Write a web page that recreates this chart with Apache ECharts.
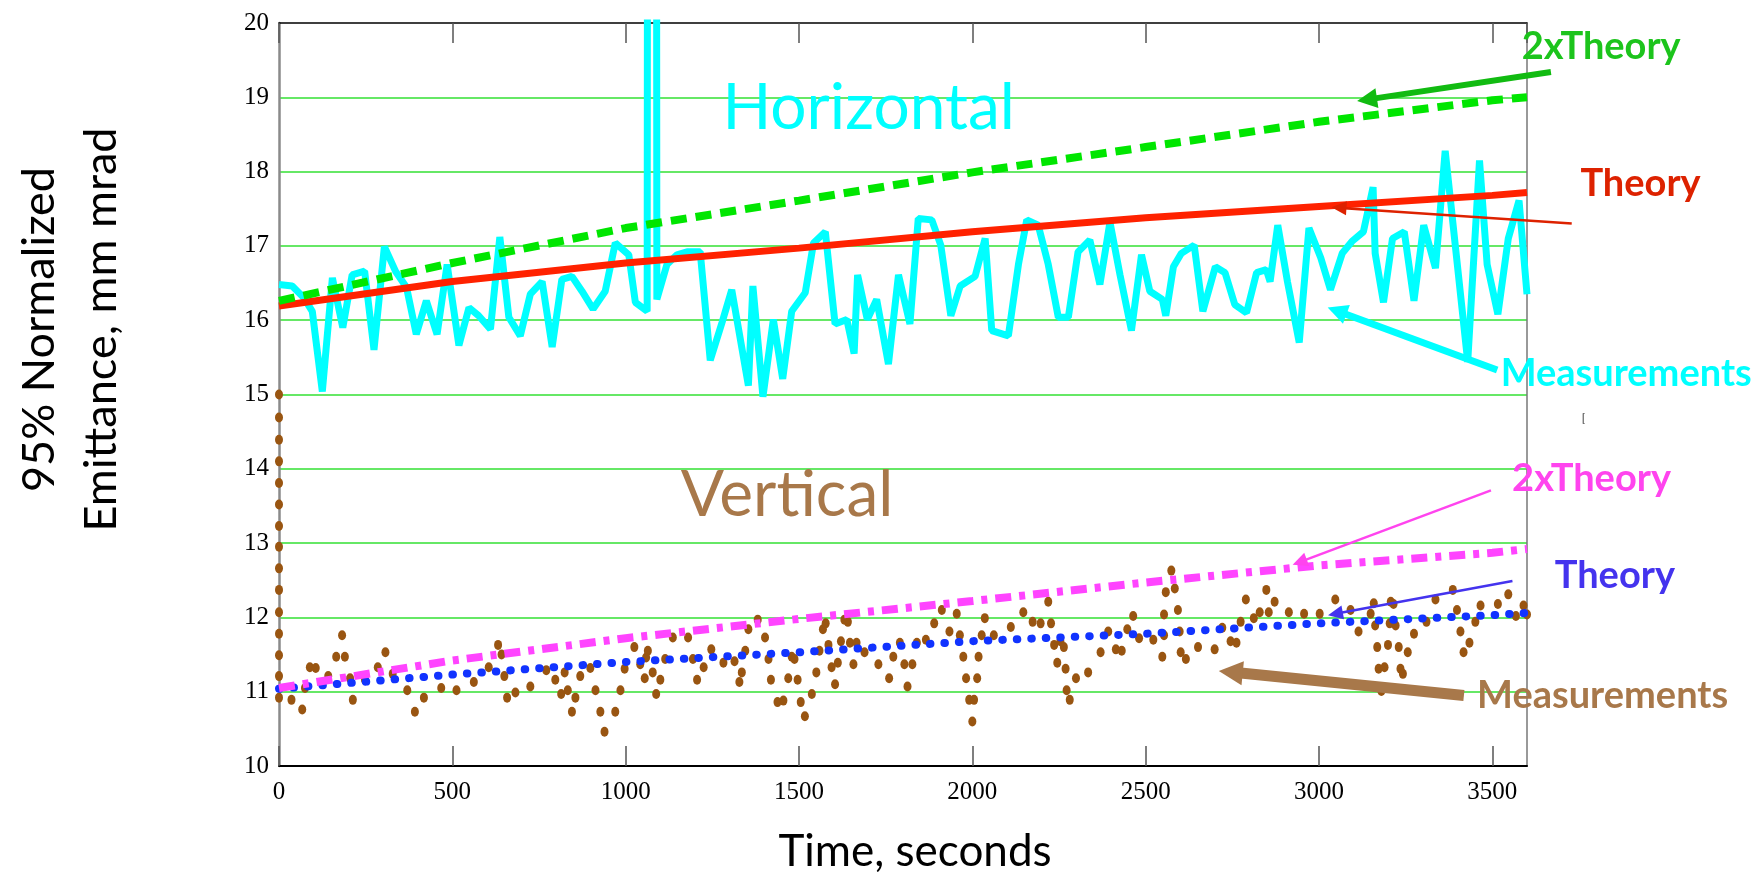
<!DOCTYPE html>
<html>
<head>
<meta charset="utf-8">
<title>Emittance growth</title>
<script src="https://cdn.jsdelivr.net/npm/echarts@6/dist/echarts.min.js"></script>
<style>
  html, body { margin: 0; padding: 0; background: #ffffff; }
  #chart { width: 1758px; height: 883px; }
</style>
</head>
<body>
<div id="chart"></div>
<script>
// ---- Horizontal plane: measured emittance (time in s, emittance in mm mrad)
const hTime = [0,38,72,96,125,154,184,211,247,274,
  304,336,368,396,425,456,485,519,548,576,
  610,637,663,696,725,759,788,816,845,874,
  906,941,970,1009,1028,1062,1076,1090,1119,1148,
  1177,1215,1244,1278,1306,1354,1367,1396,1426,1453,
  1479,1518,1542,1576,1604,1638,1659,1669,1697,1724,
  1758,1787,1820,1844,1883,1909,1938,1965,2008,2037,
  2056,2104,2133,2157,2190,2219,2248,2277,2305,2339,
  2368,2397,2426,2459,2488,2512,2548,2558,2580,2603,
  2640,2665,2701,2729,2757,2791,2820,2848,2859,2881,
  2909,2943,2971,3005,3033,3067,3095,3128,3156,3162,
  3186,3212,3246,3274,3302,3336,3364,3429,3463,3485,
  3516,3546,3577,3600];
const hMeas = [16.48,16.46,16.30,16.12,15.04,16.57,15.90,16.61,16.66,15.60,
  16.99,16.66,16.44,15.81,16.26,15.81,16.75,15.66,16.17,16.06,
  15.88,17.12,16.04,15.79,16.35,16.52,15.64,16.55,16.59,16.39,
  16.15,16.39,17.04,16.88,16.24,16.12,100,16.28,16.75,16.88,
  16.92,16.92,15.46,15.97,16.41,15.12,16.46,14.97,16.01,15.21,
  16.12,16.37,17.04,17.19,15.95,16.01,15.55,16.61,16.01,16.28,
  15.41,16.61,15.95,17.37,17.35,17.01,16.06,16.46,16.59,17.10,
  15.86,15.79,16.75,17.35,17.28,16.75,16.04,16.04,16.92,17.08,
  16.48,17.32,16.61,15.86,16.88,16.39,16.28,16.06,16.72,16.90,
  17.01,16.12,16.72,16.64,16.21,16.10,16.64,16.68,16.52,17.28,
  16.52,15.70,17.24,16.84,16.41,16.90,17.06,17.19,17.79,16.90,
  16.24,17.10,17.19,16.26,17.28,16.70,18.28,15.44,18.15,16.75,
  16.08,17.10,17.61,16.35];

// ---- Vertical plane: measured emittance
const vTime = [0,0,0,0,0,0,0,0,0,0,0,0,0,0,0,
  36,67,75,89,106,142,165,182,190,205,
  213,248,285,307,328,370,392,418,468,512,
  562,605,632,642,650,658,682,725,771,797,
  814,824,833,845,855,869,898,913,927,939,
  970,985,997,1025,1042,1055,1059,1064,1078,1088,
  1100,1114,1136,1180,1194,1206,1225,1247,1282,1314,
  1328,1335,1345,1354,1381,1402,1412,1419,1438,1455,
  1469,1479,1487,1496,1505,1517,1537,1550,1559,1569,
  1577,1585,1594,1604,1612,1621,1631,1641,1647,1657,
  1666,1689,1729,1760,1772,1791,1804,1813,1827,1840,
  1866,1890,1912,1934,1955,1964,1974,1982,1991,2000,
  2005,2014,2018,2027,2036,2062,2111,2147,2174,2197,
  2219,2227,2236,2245,2254,2264,2269,2272,2281,2299,
  2334,2370,2392,2414,2431,2447,2464,2481,2522,2548,
  2553,2553,2558,2574,2584,2593,2598,2601,2616,2651,
  2699,2721,2745,2762,2774,2789,2812,2829,2848,2855,
  2872,2913,2957,3002,3047,3091,3114,3149,3158,3162,
  3168,3172,3180,3189,3199,3204,3207,3215,3221,3230,
  3235,3242,3256,3274,3310,3336,3386,3398,3408,3417,
  3434,3451,3466,3516,3546,3568,3590,3600];
const vMeas = [15.00,14.69,14.39,14.10,13.81,13.52,13.23,12.95,12.66,12.37,12.07,11.78,11.49,11.21,10.92,
  10.89,10.76,11.05,11.33,11.32,11.21,11.47,11.76,11.47,11.18,
  10.89,11.16,11.33,11.53,11.24,11.02,10.73,10.92,11.05,11.02,
  11.13,11.33,11.63,11.50,11.21,10.92,10.99,11.07,11.29,11.16,
  10.97,11.26,11.02,10.73,10.92,11.21,11.32,11.02,10.73,10.46,
  10.73,11.02,11.31,11.60,11.37,11.18,11.46,11.55,11.26,10.97,
  11.16,11.44,11.73,11.73,11.44,11.16,11.33,11.57,11.39,11.41,
  11.13,11.26,11.55,11.84,11.97,11.73,11.44,11.16,10.86,10.88,
  11.18,11.47,11.44,11.16,10.86,10.67,10.97,11.26,11.55,11.84,
  11.92,11.63,11.33,11.10,11.39,11.68,11.97,11.94,11.66,11.37,
  11.66,11.53,11.37,11.18,11.47,11.66,11.37,11.07,11.37,11.66,
  11.70,11.92,12.10,11.81,12.05,11.76,11.47,11.18,10.89,10.60,
  10.89,11.18,11.47,11.76,11.99,11.76,11.87,12.07,11.94,11.92,
  12.21,11.92,11.63,11.39,11.68,11.60,11.31,11.02,10.89,11.18,
  11.26,11.53,11.81,11.57,11.55,11.84,12.02,11.72,11.70,11.47,
  12.04,11.76,12.34,12.63,12.39,12.10,11.81,11.53,11.44,11.60,
  11.57,11.86,11.68,11.66,11.94,12.24,11.99,12.07,12.37,12.07,
  12.21,12.07,12.05,12.05,12.24,12.10,11.81,12.05,12.19,11.89,
  11.60,11.31,11.01,11.33,11.63,11.92,12.21,12.18,11.89,11.60,
  11.31,11.24,11.53,11.78,11.94,12.24,12.37,12.10,11.81,11.53,
  11.66,11.94,12.16,12.18,12.31,12.02,12.16,12.04];

// ---- Theory curves (and twice the theoretical growth)
const theoryTime = [0,500,1000,1500,2000,2500,3000,3500,3600];
const hTheory    = [16.19,16.52,16.77,16.97,17.19,17.38,17.53,17.68,17.72];
const h2xTheory  = [16.26,16.77,17.24,17.61,17.99,18.33,18.67,18.96,19.00];
const vTheory    = [11.04,11.23,11.40,11.53,11.68,11.78,11.92,12.03,12.06];
const v2xTheory  = [11.05,11.42,11.72,11.98,12.22,12.47,12.70,12.87,12.92];

// ---- Axis ranges and tick steps
const xRange = [0, 3600], xStep = 500;
const yRange = [10, 20],  yStep = 1;

// ---- Titles
const xTitle = 'Time, seconds';
const yTitle = '95% Normalized\nEmittance, mm mrad';

const HAND = 'Lato';
const NUM = '"Liberation Serif"';

const zip = (xs, ys) => xs.map((x, i) => [x, ys[i]]);
const plain = v => String(v);

const chart = echarts.init(document.getElementById('chart'), null, { renderer: 'canvas' });

const option = {
  backgroundColor: '#ffffff',
  animation: false,
  grid: { left: 275, right: 231, top: 23, bottom: 110, containLabel: false },
  xAxis: [
    {
      type: 'value', position: 'bottom',
      min: xRange[0], max: xRange[1], interval: xStep,
      name: xTitle, nameLocation: 'middle', nameGap: 60,
      nameTextStyle: { fontFamily: HAND, fontSize: 44, color: '#000', lineHeight: 52, padding: [0, 0, 0, 24] },
      axisLine: { show: true, onZero: false, lineStyle: { color: '#000', width: 2 } },
      axisTick: { show: true, inside: true, length: 20, lineStyle: { color: '#555', width: 1.5 } },
      axisLabel: { fontFamily: NUM, fontSize: 25, color: '#000', margin: 14, showMaxLabel: false, formatter: plain },
      splitLine: { show: false }
    },
    {
      type: 'value', position: 'top',
      min: xRange[0], max: xRange[1], interval: xStep,
      axisLine: { show: true, onZero: false, lineStyle: { color: '#000', width: 1.5 } },
      axisTick: { show: true, inside: true, length: 20, lineStyle: { color: '#555', width: 1.5 } },
      axisLabel: { show: false },
      splitLine: { show: false }
    }
  ],
  yAxis: [
    {
      type: 'value', position: 'left',
      min: yRange[0], max: yRange[1], interval: yStep,
      name: yTitle, nameLocation: 'middle', nameRotate: 90, nameGap: 147,
      nameTextStyle: { fontFamily: HAND, fontSize: 45, lineHeight: 62, color: '#000', padding: [0, 0, 0, 130] },
      axisLine: { show: true, onZero: false, lineStyle: { color: '#8a8a8a', width: 2.5 } },
      axisTick: { show: false },
      axisLabel: { fontFamily: NUM, fontSize: 25, color: '#000', margin: 10, formatter: plain },
      splitLine: { show: true, showMinLine: false, showMaxLine: false, lineStyle: { color: '#33e033', width: 1.5 } }
    },
    {
      type: 'value', position: 'right',
      min: yRange[0], max: yRange[1], interval: yStep,
      axisLine: { show: true, onZero: false, lineStyle: { color: '#777', width: 1.5 } },
      axisTick: { show: false },
      axisLabel: { show: false },
      splitLine: { show: false }
    }
  ],
  series: [
    {
      name: 'Horizontal measurements', type: 'line', silent: true,
      data: zip(hTime, hMeas), symbol: 'none', clip: true,
      lineStyle: { color: '#00ffff', width: 7, join: 'bevel' },
      itemStyle: { color: '#00ffff' }
    },
    {
      name: 'Horizontal theory', type: 'line', silent: true,
      data: zip(theoryTime, hTheory), symbol: 'none',
      lineStyle: { color: '#ff2200', width: 7 },
      itemStyle: { color: '#ff2200' }
    },
    {
      name: 'Horizontal 2x theory', type: 'line', silent: true,
      data: zip(theoryTime, h2xTheory), symbol: 'none',
      lineStyle: { color: '#00e600', width: 8, type: [16, 9], cap: 'butt' },
      itemStyle: { color: '#00e600' }
    },
    {
      name: 'Vertical theory', type: 'line', silent: true,
      data: zip(theoryTime, vTheory), symbol: 'none',
      lineStyle: { color: '#1133ff', width: 8, type: [0.5, 14], cap: 'round' },
      itemStyle: { color: '#1133ff' }
    },
    {
      name: 'Vertical 2x theory', type: 'line', silent: true,
      data: zip(theoryTime, v2xTheory), symbol: 'none',
      lineStyle: { color: '#ff44ff', width: 8, type: [16, 8, 6, 8], cap: 'butt' },
      itemStyle: { color: '#ff44ff' }
    },
    {
      name: 'Vertical measurements', type: 'scatter', silent: true,
      data: zip(vTime, vMeas), symbol: 'circle', symbolSize: [8, 10], clip: true,
      itemStyle: { color: '#995511', opacity: 1 }
    }
  ]
};

chart.setOption(option);

// ---- Annotations, anchored in data units (time, emittance)
const notes = [
  { text: 'Horizontal',   at: [1279, 18.85], color: '#00ffff', font: 'normal 64px Lato' },
  { text: 'Vertical',     at: [1159, 13.64], color: '#a8784a', font: 'normal 64px Lato' },
  { text: '2xTheory',     at: [3585, 19.68], color: '#1cc41c', font: 'bold 38px Lato' },
  { text: 'Theory',       at: [3754, 17.84], color: '#dd2200', font: 'bold 38px Lato' },
  { text: 'Measurements', at: [3524, 15.28], color: '#00ffff', font: 'bold 38px Lato' },
  { text: '2xTheory',     at: [3557, 13.87], color: '#ff44ee', font: 'bold 38px Lato' },
  { text: 'Theory',       at: [3680, 12.56], color: '#4433ee', font: 'bold 38px Lato' },
  { text: 'Measurements', at: [3456, 10.94], color: '#a8784a', font: 'bold 38px Lato' },
  { text: '[',            at: [3758, 14.68], color: '#222222', font: 'normal 11px Lato' }
];
const arrows = [
  { from: [3669, 19.34], to: [3110, 18.95], color: '#11bb11', width: 6,   head: 20, half: 10 },
  { from: [3729, 17.30], to: [3036, 17.52], color: '#dd2200', width: 2.5, head: 15, half: 7 },
  { from: [3514, 15.33], to: [3025, 16.17], color: '#00ffff', width: 7,   head: 20, half: 10 },
  { from: [3496, 13.71], to: [2924, 12.71], color: '#ff44ee', width: 2.5, head: 15, half: 7 },
  { from: [3558, 12.49], to: [3026, 12.03], color: '#4433ee', width: 2.5, head: 15, half: 7 },
  { from: [3418, 10.95], to: [2711, 11.28], color: '#a8784a', width: 11,  head: 24, half: 12 }
];

function toPx(p) { return chart.convertToPixel({ seriesIndex: 0 }, p); }

const graphics = [];
arrows.forEach(a => {
  const p0 = toPx(a.from), p1 = toPx(a.to);
  const dx = p1[0] - p0[0], dy = p1[1] - p0[1];
  const len = Math.hypot(dx, dy);
  const ux = dx / len, uy = dy / len;
  const bx = p1[0] - ux * a.head, by = p1[1] - uy * a.head;
  const nx = -uy, ny = ux;
  graphics.push({
    type: 'line', silent: true, z: 50,
    shape: { x1: p0[0], y1: p0[1], x2: bx + ux * 2, y2: by + uy * 2 },
    style: { stroke: a.color, lineWidth: a.width, lineCap: 'butt' }
  });
  graphics.push({
    type: 'polygon', silent: true, z: 50,
    shape: { points: [[p1[0], p1[1]], [bx + nx * a.half, by + ny * a.half], [bx - nx * a.half, by - ny * a.half]] },
    style: { fill: a.color }
  });
});
notes.forEach(n => {
  const p = toPx(n.at);
  graphics.push({
    type: 'text', silent: true, z: 60, x: p[0], y: p[1],
    style: {
      text: n.text, fill: n.color, font: n.font,
      textAlign: 'left', textVerticalAlign: 'middle',
      align: 'left', verticalAlign: 'middle'
    }
  });
});
chart.setOption({ graphic: graphics });
</script>
</body>
</html>
